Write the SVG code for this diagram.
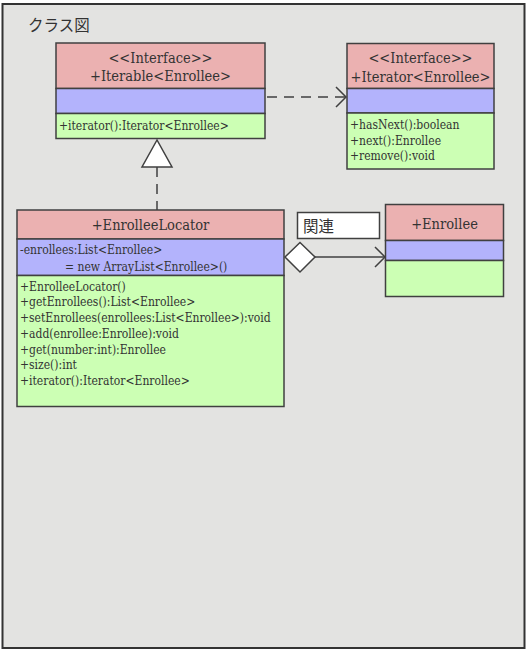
<svg xmlns="http://www.w3.org/2000/svg" width="527" height="652" viewBox="0 0 527 652">
<style>
.bd{stroke:#404040;stroke-width:1.5}
.hd{fill:#ebb1b1}
.at{fill:#b3b3fc}
.op{fill:#ccffb4}
text{font-family:"DejaVu Serif Condensed","DejaVu Serif",serif;font-stretch:condensed;fill:#333}
.h{font-size:14.5px;text-anchor:middle}
.m{font-size:12px}
.ln{stroke:#404040;stroke-width:1.5;fill:none}
</style>
<rect x="2.5" y="4" width="522" height="644" fill="#e3e3e1" stroke="#333" stroke-width="2"/>
<text x="28" y="31" style="font-family:'Noto Sans CJK JP',sans-serif;font-size:15.5px;font-stretch:normal">クラス図</text>
<g id="connectors">
<line class="ln" x1="157" y1="167" x2="157" y2="210" stroke-dasharray="10,7"/>
<polygon points="157,140 142,167 172,167" fill="#fff" stroke="#404040" stroke-width="1.5"/>
<line class="ln" x1="267" y1="97" x2="345" y2="97" stroke-dasharray="10,7"/>
<polyline class="ln" points="336,87 346,97 336,107"/>
<line class="ln" x1="314" y1="257" x2="384" y2="257"/>
<polyline class="ln" points="375,247 385,257 375,267"/>
<polygon points="285,257 300,242.5 315,257 300,272" fill="#fff" stroke="#404040" stroke-width="1.5"/>
</g>
<g id="iterable">
<rect class="hd bd" x="56" y="43" width="209" height="45.5"/>
<rect class="at bd" x="56" y="88.5" width="209" height="25"/>
<rect class="op bd" x="56" y="113.5" width="209" height="25"/>
<text class="h" x="160.5" y="63">&lt;&lt;Interface&gt;&gt;</text>
<text class="h" x="160.5" y="81">+Iterable&lt;Enrollee&gt;</text>
<text class="m" x="59" y="130">+iterator():Iterator&lt;Enrollee&gt;</text>
</g>
<g id="iterator">
<rect class="hd bd" x="347" y="43.5" width="147" height="45"/>
<rect class="at bd" x="347" y="88.5" width="147" height="24.5"/>
<rect class="op bd" x="347" y="113" width="147" height="56"/>
<text class="h" x="420.5" y="63">&lt;&lt;Interface&gt;&gt;</text>
<text class="h" x="420.5" y="81.5">+Iterator&lt;Enrollee&gt;</text>
<text class="m" x="350" y="129">+hasNext():boolean</text>
<text class="m" x="350" y="144.5">+next():Enrollee</text>
<text class="m" x="350" y="160">+remove():void</text>
</g>
<g id="locator">
<rect class="hd bd" x="17" y="210" width="267" height="29"/>
<rect class="at bd" x="17" y="239" width="267" height="36.5"/>
<rect class="op bd" x="17" y="275.5" width="267" height="131"/>
<text class="h" x="150.5" y="230">+EnrolleeLocator</text>
<text class="m" x="20" y="254">-enrollees:List&lt;Enrollee&gt;</text>
<text class="m" x="65" y="270.5">= new ArrayList&lt;Enrollee&gt;()</text>
<text class="m" x="20" y="290.5">+EnrolleeLocator()</text>
<text class="m" x="20" y="306">+getEnrollees():List&lt;Enrollee&gt;</text>
<text class="m" x="20" y="322">+setEnrollees(enrollees:List&lt;Enrollee&gt;):void</text>
<text class="m" x="20" y="337.5">+add(enrollee:Enrollee):void</text>
<text class="m" x="20" y="353.5">+get(number:int):Enrollee</text>
<text class="m" x="20" y="369">+size():int</text>
<text class="m" x="20" y="385">+iterator():Iterator&lt;Enrollee&gt;</text>
</g>
<g id="enrollee">
<rect class="hd bd" x="385.5" y="204.5" width="118" height="36"/>
<rect class="at bd" x="385.5" y="240.5" width="118" height="20"/>
<rect class="op bd" x="385.5" y="260.5" width="118" height="36"/>
<text class="h" x="444.5" y="229">+Enrollee</text>
</g>
<g id="label">
<rect x="297.5" y="212.5" width="82" height="26" fill="#fff" stroke="#404040" stroke-width="1.5"/>
<text x="303" y="232" style="font-family:'Noto Sans CJK JP',sans-serif;font-size:15.5px;font-stretch:normal">関連</text>
</g>
</svg>
